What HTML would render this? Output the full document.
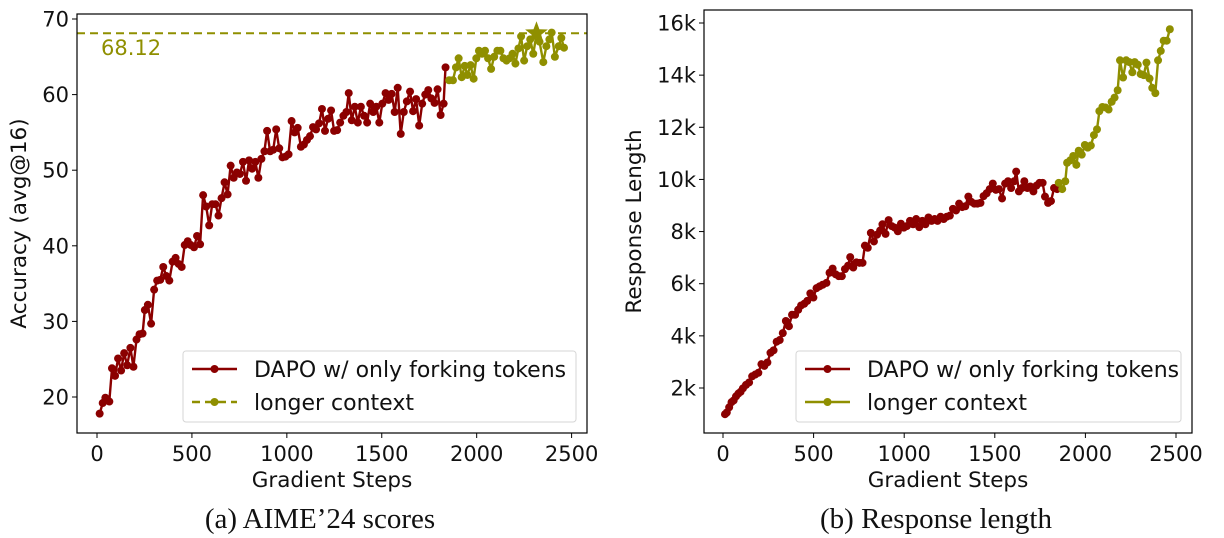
<!DOCTYPE html>
<html><head><meta charset="utf-8"><style>
html,body{margin:0;padding:0;background:#fff;}
svg{display:block;}
text{font-family:"DejaVu Sans","Liberation Sans",sans-serif;}
.cap{font-family:"Liberation Serif",serif;font-size:29px;}
</style></head><body>
<svg id="fig" width="1224" height="538" viewBox="0 0 1224 538" xmlns="http://www.w3.org/2000/svg"></svg>
<script>
// ---- Chart (a) data: AIME'24 accuracy ----
const aSteps = [14,30,44,65,79,95,111,127,143,159,176,192,208,224,240,252,268,285,301,317,333,349,365,381,398,414,430,446,462,478,494,511,527,543,559,575,591,607,624,640,656,672,688,704,720,737,753,769,785,801,817,834,850,866,882,896,912,928,944,960,977,993,1009,1025,1041,1057,1074,1090,1106,1122,1138,1154,1170,1185,1201,1217,1233,1249,1265,1281,1298,1314,1326,1342,1358,1374,1390,1407,1423,1439,1455,1471,1487,1503,1520,1536,1552,1568,1584,1600,1616,1632,1649,1665,1681,1697,1713,1729,1745,1761,1778,1794,1810,1826,1836];
const aValues = [17.8,19.2,19.9,19.4,23.8,22.8,25.1,23.5,25.8,24.2,26.5,24.0,27.6,28.3,28.4,31.5,32.2,29.7,34.2,35.4,35.5,37.2,36.0,35.4,37.9,38.4,37.6,37.2,40.1,40.6,40.1,39.8,41.3,40.2,46.7,45.2,42.7,45.5,45.5,44.0,46.3,48.4,46.8,50.6,49.0,49.7,49.5,51.1,48.6,51.3,50.2,51.1,49.0,51.5,52.5,55.2,52.5,52.7,55.4,52.9,51.7,51.8,52.1,56.5,55.0,55.6,53.1,53.4,54.0,54.5,55.7,55.4,56.2,58.1,55.2,56.8,57.9,55.2,55.3,56.3,57.2,57.7,60.2,56.6,58.4,56.3,58.4,57.2,56.3,58.8,57.7,58.4,56.3,58.8,60.2,59.3,60.1,57.7,60.9,54.8,57.7,59.1,60.4,57.8,59.4,55.9,58.8,60.0,60.6,59.5,58.9,60.7,57.3,58.8,63.6];
const aLongSteps = [1855,1875,1891,1905,1921,1937,1951,1968,1984,1998,2012,2028,2044,2060,2076,2092,2109,2125,2141,2157,2173,2189,2204,2220,2234,2250,2266,2282,2298,2315,2331,2351,2367,2383,2395,2412,2432,2446,2460];
const aLongValues = [61.9,61.9,63.6,64.8,62.3,63.8,62.6,63.9,62.1,64.8,65.8,65.4,65.8,64.8,63.4,65.0,65.8,65.8,64.8,64.5,64.8,65.4,64.1,66.1,67.7,64.5,66.4,67.3,65.4,68.0,67.0,64.3,66.4,67.3,68.2,65.0,66.4,67.5,66.2];
const aBest = 68.12;
const aBestStep = 2315;
const aYTicks = [20,30,40,50,60,70];
const xTicks = [0,500,1000,1500,2000,2500];

// ---- Chart (b) data: response length ----
const bSteps = [11,21,34,47,59,72,85,97,110,127,144,161,178,195,212,228,245,262,279,296,313,330,347,364,381,398,415,431,448,465,482,499,516,533,550,571,588,605,622,639,656,673,690,702,719,736,753,770,783,799,816,833,850,867,880,897,914,931,948,965,982,998,1015,1032,1049,1066,1083,1100,1117,1134,1151,1168,1184,1201,1218,1235,1252,1269,1286,1303,1320,1337,1354,1370,1387,1404,1421,1438,1455,1472,1489,1506,1523,1540,1557,1573,1590,1607,1618,1633,1650,1663,1680,1696,1713,1730,1747,1764,1777,1794,1810,1827,1844];
const bValues = [995,1060,1260,1457,1523,1682,1788,1855,1988,2120,2212,2450,2517,2583,2914,2848,2980,3350,3444,3775,3840,4105,4570,4370,4810,4810,5000,5165,5230,5340,5630,5470,5830,5900,5960,6030,6420,6580,6360,6290,6290,6560,6690,7020,6620,6820,6800,6800,7460,7380,7950,7620,7880,8040,8280,7910,8440,8210,8150,8010,8300,8150,8210,8410,8280,8480,8170,8410,8280,8540,8410,8480,8410,8570,8480,8570,8610,8870,8810,9070,8940,8970,9340,9140,9070,9070,9100,9360,9470,9630,9840,9600,9630,9270,9840,9930,9670,9930,10300,9540,9670,9930,9670,9730,9540,9760,9870,9870,9340,9100,9170,9670,9630];
const bLongSteps = [1853,1872,1889,1899,1916,1933,1950,1963,1980,1997,2013,2030,2047,2064,2077,2094,2111,2128,2145,2161,2178,2191,2208,2225,2242,2259,2272,2289,2305,2322,2337,2354,2369,2386,2401,2416,2432,2449,2466];
const bLongValues = [9870,9630,9930,10640,10730,10900,10560,11100,10950,11320,11220,11300,11700,11920,12620,12780,12760,12680,12980,13140,13420,14570,13910,14570,14500,14110,14500,14400,14040,14000,14480,13870,13510,13310,14570,14930,15320,15320,15760];
const bYTicks = [2000,4000,6000,8000,10000,12000,14000,16000];
const bYTickLabels = ["2k","4k","6k","8k","10k","12k","14k","16k"];

const RED = "#8b0000", OLIVE = "#8f8f00";
const NS = "http://www.w3.org/2000/svg";
const svg = document.getElementById("fig");
function mk(tag, attrs, parent, txt){
  const e = document.createElementNS(NS, tag);
  for (const k in attrs) e.setAttribute(k, attrs[k]);
  if (txt !== undefined) e.textContent = txt;
  (parent || svg).appendChild(e);
  return e;
}

function drawPanel(cfg){
  const g = mk("g", {});
  
  
  const sx = v => cfg.x0 + (v - 0) * (cfg.x2500 - cfg.x0) / 2500;
  const sy = v => cfg.yA + (v - cfg.vA) * (cfg.yB - cfg.yA) / (cfg.vB - cfg.vA);

  xTicks.forEach(t => {
    mk("line", {x1:sx(t), x2:sx(t), y1:cfg.bottom, y2:cfg.bottom+5, stroke:"#000", "stroke-width":1}, g);
    const tl = mk("text", {x:sx(t), y:cfg.bottom+28, "text-anchor":"middle", "font-size":21, fill:"#111"}, g, String(t));
    
    
  });
  cfg.yTicks.forEach((t, i) => {
    mk("line", {x1:cfg.left-5, x2:cfg.left, y1:sy(t), y2:sy(t), stroke:"#000", "stroke-width":1}, g);
    const tl = mk("text", {x:cfg.left-8, y:sy(t)+7.5, "text-anchor":"end", "font-size":21, fill:"#111"}, g, cfg.yLabels ? cfg.yLabels[i] : String(t));
    
    
  });
  const xt = mk("text", {x:(cfg.left+cfg.right)/2, y:cfg.bottom+54, "text-anchor":"middle", "font-size":21.5, fill:"#111"}, g, "Gradient Steps");
  
  
  const yc = (cfg.top+cfg.bottom)/2;
  const yt = mk("text", {x:cfg.yTitleX, y:yc, "text-anchor":"middle", "font-size":21.5, fill:"#111", transform:`rotate(-90 ${cfg.yTitleX} ${yc})`}, g, cfg.yTitle);
  
  
  const cap = mk("text", {x:(cfg.left+cfg.right)/2 - 12, y:528, "text-anchor":"middle", "class":"cap", fill:"#111"}, g, cfg.caption);
  
  

  if (cfg.refLine !== undefined){
    const rl = mk("line", {x1:cfg.left, x2:cfg.right, y1:sy(cfg.refLine), y2:sy(cfg.refLine), stroke:OLIVE, "stroke-width":2, "stroke-dasharray":"8,5"}, g);
    
    
    const rt = mk("text", {x:cfg.left+24, y:sy(cfg.refLine)+22, "font-size":21, fill:OLIVE}, g, aBest.toFixed(2));
    
    
  }

  function series(xs, ys, color, name){
    const sg = mk("g", {}, g);
    
    
    const pts = xs.map((x,i)=>sx(x).toFixed(1)+","+sy(ys[i]).toFixed(1)).join(" ");
    const pl = mk("polyline", {points:pts, fill:"none", stroke:color, "stroke-width":2.4, "stroke-linejoin":"round"}, sg);
    
    
    xs.forEach((x,i)=>{
      const c = mk("circle", {cx:sx(x), cy:sy(ys[i]), r:4, fill:color}, sg);
      
      
    });
  }
  series(cfg.s1x, cfg.s1y, RED, "forking-tokens-series");
  series(cfg.s2x, cfg.s2y, OLIVE, "longer-context-series");

  if (cfg.star){
    const cx = sx(aBestStep), cy = sy(aBest), R = 12, r = 5;
    let p = [];
    for (let k=0;k<10;k++){
      const ang = -Math.PI/2 + k*Math.PI/5, rr = k%2 ? r : R;
      p.push((cx+rr*Math.cos(ang)).toFixed(1)+","+(cy+rr*Math.sin(ang)).toFixed(1));
    }
    const st = mk("polygon", {points:p.join(" "), fill:OLIVE}, g);
    
    
  }

  const fr = mk("rect", {x:cfg.left, y:cfg.top, width:cfg.right-cfg.left, height:cfg.bottom-cfg.top, fill:"none", stroke:"#000", "stroke-width":1.2}, g);
  
  

  const lg = mk("g", {}, g);
  
  
  mk("rect", {x:cfg.legX, y:351, width:cfg.legW, height:71, rx:3, fill:"#fff", "fill-opacity":0.85, stroke:"#d6d6d6", "stroke-width":1}, lg);
  const lx = cfg.legX + 9;
  const e1 = mk("g", {}, lg);
  
  
  mk("line", {x1:lx, x2:lx+45, y1:369, y2:369, stroke:RED, "stroke-width":2.4}, e1);
  mk("circle", {cx:lx+22.5, cy:369, r:4, fill:RED}, e1);
  mk("text", {x:lx+62, y:377, "font-size":22, fill:"#111"}, e1, "DAPO w/ only forking tokens");
  const e2 = mk("g", {}, lg);
  
  
  const la = {x1:lx, x2:lx+45, y1:402, y2:402, stroke:OLIVE, "stroke-width":2.4};
  if (cfg.dashLegend) la["stroke-dasharray"] = "8,5";
  mk("line", la, e2);
  mk("circle", {cx:lx+22.5, cy:402, r:4, fill:OLIVE}, e2);
  mk("text", {x:lx+62, y:410, "font-size":22, fill:"#111"}, e2, "longer context");
}

drawPanel({name:"aime-score-chart", left:77, right:587, top:14, bottom:433, x0:97, x2500:571.6,
  vA:20, yA:397, vB:70, yB:19, yTicks:aYTicks, yTitle:"Accuracy (avg@16)", yTitleX:26,
  caption:"(a) AIME’24 scores", s1x:aSteps, s1y:aValues, s2x:aLongSteps, s2y:aLongValues,
  refLine:aBest, star:true, legX:183, legW:393, dashLegend:true});
drawPanel({name:"response-length-chart", left:704, right:1192, top:10, bottom:433, x0:723, x2500:1176,
  vA:2000, yA:388, vB:16000, yB:23, yTicks:bYTicks, yLabels:bYTickLabels, yTitle:"Response Length", yTitleX:641,
  caption:"(b) Response length", s1x:bSteps, s1y:bValues, s2x:bLongSteps, s2y:bLongValues,
  legX:796, legW:385, dashLegend:false});
</script>
</body></html>
